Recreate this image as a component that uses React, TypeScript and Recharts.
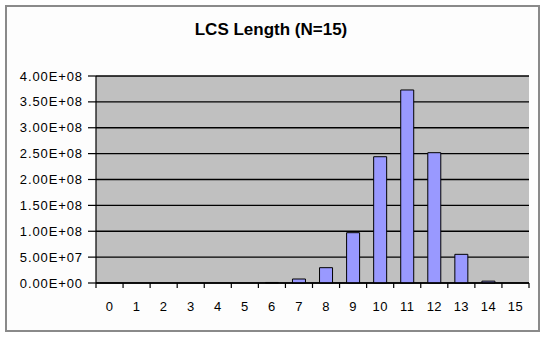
import React from 'react';
import { BarChart, Bar, XAxis, YAxis, CartesianGrid } from 'recharts';

const CATEGORIES = ['0', '1', '2', '3', '4', '5', '6', '7', '8', '9', '10', '11', '12', '13', '14', '15'];
const COUNTS = [0, 0, 0, 0, 0, 0, 1.0e6, 7.7e6, 2.96e7, 9.72e7, 2.44e8, 3.73e8, 2.518e8, 5.54e7, 3.6e6, 0];
const Y_TICKS = [0, 5e7, 1e8, 1.5e8, 2e8, 2.5e8, 3e8, 3.5e8, 4e8];
const TITLE = 'LCS Length (N=15)';

const data = CATEGORIES.map((c, i) => ({ name: c, value: COUNTS[i] }));

const FONT = '"Liberation Sans", Arial, sans-serif';

const fmtExp = (v: number) => {
  const [m, e] = v.toExponential(2).split('e');
  const sign = e[0] === '-' ? '-' : '+';
  const digits = e.replace(/^[+-]/, '').padStart(2, '0');
  return `${m}E${sign}${digits}`;
};

const XTick = (props: any) => {
  const { x, y, payload, index, width } = props;
  const half =
    payload && typeof payload.offset === 'number' && payload.offset > 0
      ? payload.offset
      : (width || 0) / CATEGORIES.length / 2;
  const axisY = y - 5;
  return (
    <g>
      <line x1={x - half} x2={x - half} y1={axisY} y2={y} stroke="#000" strokeWidth={1.2} />
      {index === CATEGORIES.length - 1 && (
        <line x1={x + half} x2={x + half} y1={axisY} y2={y} stroke="#000" strokeWidth={1.2} />
      )}
      <text x={x} y={y + 23} textAnchor="middle" fill="#000" fontSize={13} fontFamily={FONT} letterSpacing={0.4}>
        {payload.value}
      </text>
    </g>
  );
};

export default function App() {
  return (
    <div style={{ position: 'absolute', left: 0, top: 0, width: 545, height: 337, background: '#fff' }}>
      <div
        style={{
          position: 'absolute',
          left: 5,
          top: 5,
          width: 531,
          height: 323,
          border: '2px solid #8a8a8a',
          background: '#fdfdfd',
        }}
      />
      <div
        style={{
          position: 'absolute',
          left: 0,
          top: 21,
          width: 542,
          textAlign: 'center',
          fontFamily: FONT,
          fontWeight: 'bold',
          fontSize: 17,
          lineHeight: '17px',
          color: '#000',
        }}
      >
        {TITLE}
      </div>
      <div style={{ position: 'absolute', left: 0, top: 0 }}>
        <BarChart
          width={545}
          height={337}
          data={data}
          margin={{ top: 76, right: 16, bottom: 24, left: 10 }}
          barCategoryGap="26%"
        >
          <CartesianGrid fill="#c0c0c0" stroke="#000" strokeWidth={1.3} vertical={false} />
          <XAxis
            dataKey="name"
            height={30}
            tickLine={false}
            tickSize={5}
            tickMargin={0}
            axisLine={{ stroke: '#000', strokeWidth: 1.3 }}
            tick={<XTick />}
            interval={0}
          />
          <XAxis
            xAxisId="top"
            dataKey="name"
            orientation="top"
            height={0}
            tick={false}
            tickLine={false}
            axisLine={{ stroke: '#8a8a8a', strokeWidth: 1.3 }}
          />
          <YAxis
            width={86}
            domain={[0, 4e8]}
            ticks={Y_TICKS}
            interval={0}
            tickFormatter={fmtExp}
            tickSize={8}
            tickMargin={5}
            tickLine={{ stroke: '#000', strokeWidth: 1.2 }}
            axisLine={{ stroke: '#000', strokeWidth: 1.2 }}
            tick={{ fill: '#000', fontSize: 13, fontFamily: FONT, letterSpacing: 0.9 }}
          />
          <YAxis
            yAxisId="right"
            orientation="right"
            width={0}
            tick={false}
            tickLine={false}
            axisLine={{ stroke: '#8a8a8a', strokeWidth: 1.3 }}
          />
          <Bar dataKey="value" fill="#9999ff" stroke="#000" strokeWidth={1} isAnimationActive={false} />
        </BarChart>
      </div>
    </div>
  );
}
